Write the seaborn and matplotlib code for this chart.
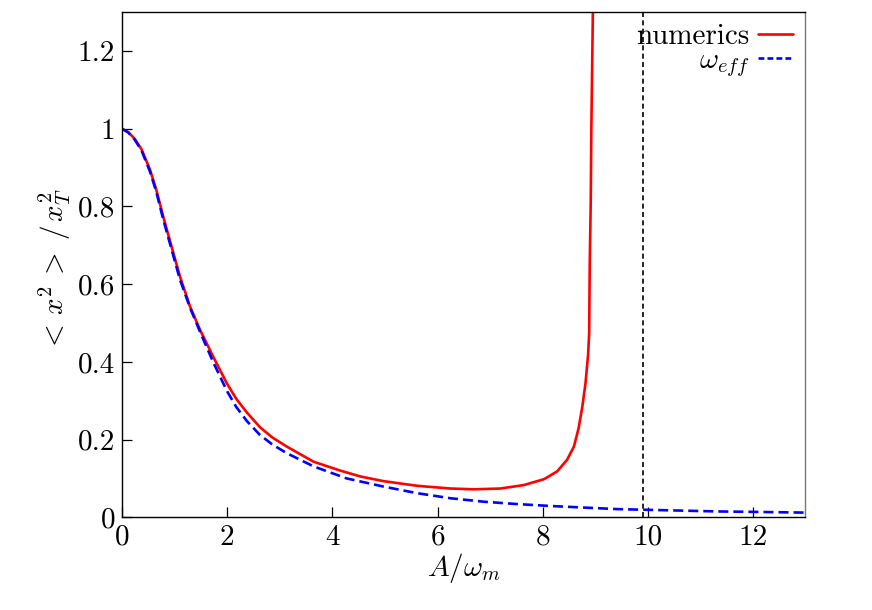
import numpy as np
import pandas as pd
import matplotlib
matplotlib.use("Agg")
import matplotlib.pyplot as plt
import seaborn as sns

# ---- data ----
num_x = [0, 0.12, 0.24, 0.37, 0.53, 0.65, 0.78, 0.94, 1.10, 1.29, 1.48, 1.73, 1.99,
         2.17, 2.37, 2.62, 2.85, 3.13, 3.64, 4.15, 4.53, 4.97, 5.61, 6.24, 6.69, 7.19,
         7.64, 8.02, 8.27, 8.46, 8.59, 8.68, 8.75, 8.81, 8.86, 8.88, 8.89, 8.91, 8.92,
         8.95]
num_y = [1.0, 0.991, 0.974, 0.947, 0.895, 0.843, 0.775, 0.697, 0.620, 0.543, 0.483,
         0.414, 0.345, 0.305, 0.270, 0.232, 0.206, 0.182, 0.143, 0.120, 0.105, 0.093,
         0.081, 0.074, 0.072, 0.074, 0.083, 0.098, 0.118, 0.148, 0.182, 0.230, 0.285,
         0.345, 0.42, 0.474, 0.646, 0.818, 0.99, 1.30]

eff_x = [0, 0.12, 0.24, 0.37, 0.53, 0.65, 0.78, 0.94, 1.10, 1.29, 1.48, 1.73, 1.99,
         2.17, 2.37, 2.62, 2.85, 3.13, 3.64, 4.27, 4.97, 5.61, 6.24, 6.88, 7.51, 8.15,
         8.78, 9.42, 10.05, 10.69, 11.32, 11.96, 12.98]
eff_y = [1.0, 0.99, 0.972, 0.944, 0.89, 0.838, 0.768, 0.69, 0.612, 0.540, 0.478,
         0.400, 0.326, 0.284, 0.248, 0.212, 0.188, 0.165, 0.131, 0.100, 0.079, 0.062,
         0.049, 0.040, 0.034, 0.029, 0.025, 0.021, 0.019, 0.017, 0.015, 0.014, 0.012]

vline_x = 9.9
x_ticks = [0, 2, 4, 6, 8, 10, 12]
y_ticks = [0, 0.2, 0.4, 0.6, 0.8, 1.0, 1.2]
y_tick_labels = ["0", "0.2", "0.4", "0.6", "0.8", "1", "1.2"]

sns.set_theme(style="ticks")
plt.rcParams["font.family"] = ["cmr10", "DejaVu Serif"]
plt.rcParams["mathtext.fontset"] = "cm"
plt.rcParams["axes.formatter.use_mathtext"] = True
plt.rcParams["axes.unicode_minus"] = False
for k in ["text.color", "axes.labelcolor", "xtick.color", "ytick.color",
          "xtick.labelcolor", "ytick.labelcolor"]:
    plt.rcParams[k] = "black"

fig = plt.figure(figsize=(8.72, 6.10), dpi=100)
ax = fig.add_axes([0.140, 0.152, 0.783, 0.828])

df_num = pd.DataFrame({"x": num_x, "y": num_y})
df_eff = pd.DataFrame({"x": eff_x, "y": eff_y})

sns.lineplot(data=df_num, x="x", y="y", ax=ax, color="#ff0000", lw=1.9,
             estimator=None, sort=False, label="numerics")
sns.lineplot(data=df_eff, x="x", y="y", ax=ax, color="#0000ff", lw=1.9,
             estimator=None, sort=False, label=r"$\omega_{eff}$")
ax.lines[-1].set_dashes([3.8, 1.9])
ax.axvline(vline_x, color="black", lw=1.2, dashes=(3, 2))

ax.set_xlim(0, 12.98)
ax.set_ylim(0, 1.3)
ax.set_xticks(x_ticks)
ax.set_xticklabels([str(t) for t in x_ticks])
ax.set_yticks(y_ticks)
ax.set_yticklabels(y_tick_labels)
ax.tick_params(direction="in", length=7, width=0.9, labelsize=21, pad=5,
               top=False, right=False, color="black", labelcolor="black")
for s in ax.spines.values():
    s.set_linewidth(1.0)
    s.set_color("black")
ax.spines["right"].set_color("#777777")

ax.set_xlabel(r"$A/\omega_m$", fontsize=21, labelpad=0, color="black")
ax.set_ylabel(r"$<\,x^2\,>\;/\,x_T^2$", fontsize=21, color="black")
ax.yaxis.set_label_coords(-0.072, 0.49)

leg = ax.legend(loc="upper right", frameon=False, markerfirst=False, fontsize=21,
                handlelength=1.2, handletextpad=0.3, borderaxespad=0.1,
                borderpad=0.3, labelspacing=-0.1)
for t in leg.get_texts():
    t.set_color("black")
for h in leg.legend_handles:
    h.set_linewidth(1.9)
leg.legend_handles[1].set_dashes([2.2, 1.2])

fig.savefig("out.png", dpi=100)
